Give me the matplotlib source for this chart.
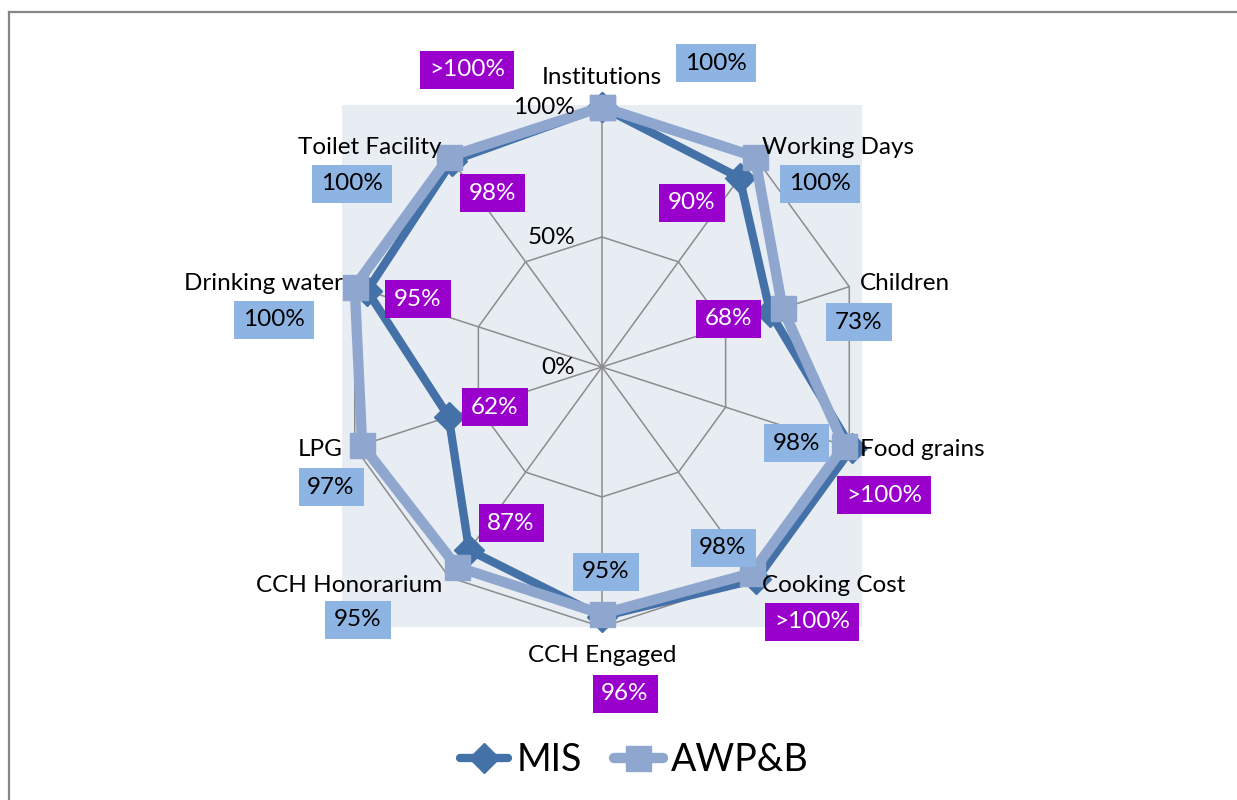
import numpy as np
import matplotlib
matplotlib.use("Agg")
import matplotlib.pyplot as plt
from matplotlib.patches import Rectangle
from matplotlib.lines import Line2D

plt.rcParams['font.family'] = ['Lato', 'DejaVu Sans']

categories = ["Institutions", "Working Days", "Children", "Food grains", "Cooking Cost",
              "CCH Engaged", "CCH Honorarium", "LPG", "Drinking water", "Toilet Facility"]
mis = [100, 90, 68, 101, 101, 96, 87, 62, 95, 98]
awpb = [100, 100, 73, 98, 98, 95, 95, 97, 100, 100]
mis_labels = [">100%", "90%", "68%", ">100%", ">100%", "96%", "87%", "62%", "95%", "98%"]
awpb_labels = ["100%", "100%", "73%", "98%", "98%", "95%", "95%", "97%", "100%", "100%"]
r_ticks = [0, 50, 100]
r_tick_labels = ["0%", "50%", "100%"]

W, H = 1237, 800
fig = plt.figure(figsize=(W / 100, H / 100), dpi=100)

def px(x, y):
    return x / W, 1 - y / H

# outer border (left and top visible)
fig.add_artist(Line2D([8.5 / W, 8.5 / W], [0, 1 - 11.5 / H], color='#868686', lw=1.6))
fig.add_artist(Line2D([8.5 / W, 1], [1 - 11.5 / H, 1 - 11.5 / H], color='#868686', lw=1.6))

# plot-area background
x0, y0 = px(342, 627)
fig.add_artist(Rectangle((x0, y0), 520 / W, 522 / H, facecolor='#E8EDF4', edgecolor='none', zorder=0))

cx, cy = 602, 367
R100 = 260
rmax = 110
Rax = R100 * rmax / 100
ax = fig.add_axes([(cx - Rax) / W, (H - cy - Rax) / H, 2 * Rax / W, 2 * Rax / H], projection='polar')
ax.set_theta_offset(np.pi / 2)
ax.set_theta_direction(-1)
ax.set_ylim(0, rmax)
ax.grid(False)
ax.spines['polar'].set_visible(False)
ax.set_xticks([])
ax.set_yticks([])
ax.patch.set_alpha(0)

n = len(categories)
theta = np.arange(n) * 2 * np.pi / n
theta_c = np.append(theta, theta[0])

grid_col = '#8C8C8C'
for r in r_ticks[1:]:
    ax.plot(theta_c, [r] * (n + 1), color=grid_col, lw=1.1, zorder=1)
for t in theta:
    ax.plot([t, t], [0, r_ticks[-1]], color=grid_col, lw=1.1, zorder=1)

mis_col = '#4471A8'
awp_col = '#8FA7CF'
ax.plot(theta_c, mis + mis[:1], color=mis_col, lw=6, marker='D', markersize=15,
        markerfacecolor=mis_col, markeredgecolor=mis_col, zorder=3, clip_on=False)
ax.plot(theta_c, awpb + awpb[:1], color=awp_col, lw=7.5, marker='s', markersize=18,
        markerfacecolor=awp_col, markeredgecolor=awp_col, zorder=4, clip_on=False)

fs = 17.5
# radial tick labels
for r, lab in zip(r_ticks, r_tick_labels):
    fig.text(*px(575, cy - R100 * r / 100 + 1), lab, ha='right', va='center', fontsize=fs)

# category labels: (x, y, ha)
cat_pos = [(602, 78, 'center'), (762, 148, 'left'), (860, 283, 'left'), (860, 450, 'left'),
           (762, 585, 'left'), (602, 656, 'center'), (442, 585, 'right'), (343, 450, 'right'),
           (343, 284, 'right'), (442, 148, 'right')]
for name, (x, y, ha) in zip(categories, cat_pos):
    fig.text(*px(x, y), name, ha=ha, va='center', fontsize=fs)

mis_pos = [(467, 70), (692, 203), (729, 319), (884, 495), (812, 622),
           (625, 694), (511, 523), (495, 407), (418, 299), (492, 193)]
awp_pos = [(716, 63), (820, 184), (859, 322), (796, 443), (723, 548),
           (606, 572), (358, 620), (331, 487), (274, 320), (352, 184)]
for lab, (x, y) in zip(mis_labels, mis_pos):
    fig.text(*px(x, y), lab, ha='center', va='center', fontsize=fs, color='white',
             bbox=dict(boxstyle='square,pad=0.36', facecolor='#9900CC', edgecolor='none'))
for lab, (x, y) in zip(awpb_labels, awp_pos):
    fig.text(*px(x, y), lab, ha='center', va='center', fontsize=fs, color='black',
             bbox=dict(boxstyle='square,pad=0.36', facecolor='#8DB4E2', edgecolor='none'))

handles = [Line2D([], [], color=mis_col, lw=6, marker='D', markersize=15, solid_capstyle='round'),
           Line2D([], [], color=awp_col, lw=7.5, marker='s', markersize=18, solid_capstyle='round')]
fig.legend(handles, ["MIS", "AWP&B"], loc='center', bbox_to_anchor=px(634, 760), ncol=2,
           frameon=False, fontsize=27, handlelength=1.3, handletextpad=0.22, columnspacing=0.85)

fig.savefig("out.png", dpi=100)
